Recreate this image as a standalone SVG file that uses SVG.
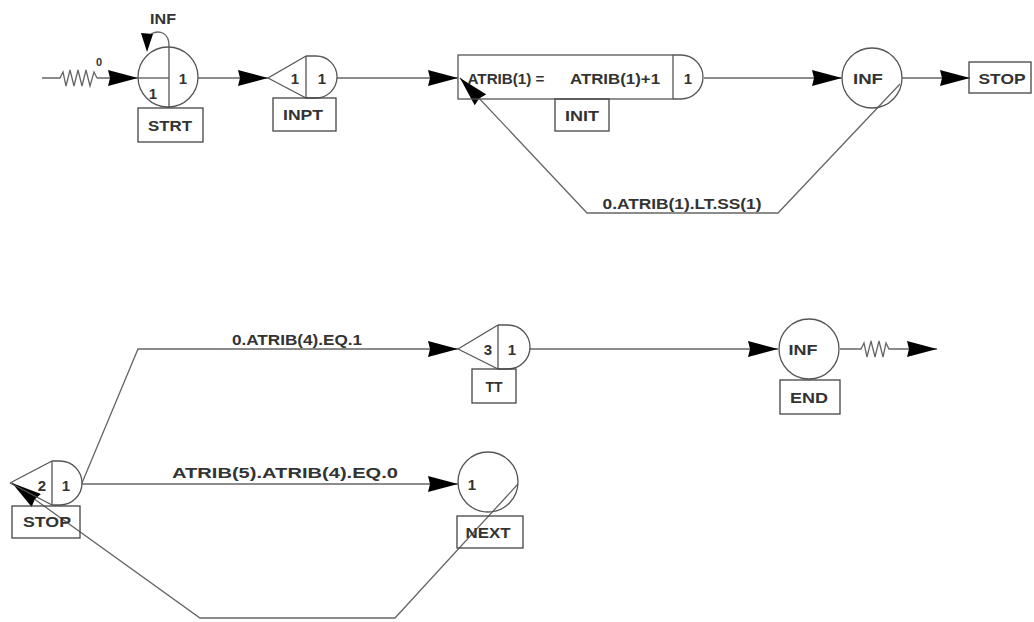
<svg xmlns="http://www.w3.org/2000/svg" width="1034" height="622" viewBox="0 0 1034 622">
  <style>
    .shape { fill: none; stroke: #555; stroke-width: 1.3; }
    .box { fill: none; stroke: #444; stroke-width: 1.3; }
    .wire { fill: none; stroke: #666; stroke-width: 1.3; }
    .lbl { font-family: "Liberation Sans", Arial, sans-serif; font-size: 15px; font-weight: bold; fill: #333; text-anchor: middle; }
    .small { font-family: "Liberation Sans", Arial, sans-serif; font-size: 11px; font-weight: bold; fill: #333; text-anchor: middle; }
  </style>
  <defs>
    <marker id="arrow" viewBox="0 0 30 16" refX="30" refY="8" markerWidth="30" markerHeight="16" markerUnits="userSpaceOnUse" orient="auto">
      <path d="M0,0 L30,8 L0,16 L2,8 Z" fill="#000"/>
    </marker>
  </defs>

  <!-- connectors -->
  <g id="connectors">
    <!-- entity source -->
    <path class="wire" d="M42,78 H60 L63,72 L66,86 L70,70 L74,86 L78,70 L82,86 L86,70 L90,86 L94,72 L97,78"/>
    <text class="small" x="99" y="66">0</text>
    <path class="wire" d="M97,78 H138" marker-end="url(#arrow)"/>
    <path class="wire" d="M198,78 H268" marker-end="url(#arrow)"/>
    <path class="wire" d="M337,78 H458" marker-end="url(#arrow)"/>
    <path class="wire" d="M704,78 H842" marker-end="url(#arrow)"/>
    <path class="wire" d="M902,78 H970" marker-end="url(#arrow)"/>
    <!-- loop back to the assign node -->
    <path class="wire" d="M900,84 L778,213 H587 L460,78" marker-end="url(#arrow)"/>
    <text class="lbl" x="682" y="209" textLength="159" lengthAdjust="spacingAndGlyphs">0.ATRIB(1).LT.SS(1)</text>

    <!-- lower branches -->
    <path class="wire" d="M82,483 L138,349 H458" marker-end="url(#arrow)"/>
    <text class="lbl" x="297" y="345" textLength="130" lengthAdjust="spacingAndGlyphs">0.ATRIB(4).EQ.1</text>
    <path class="wire" d="M530,349 H778" marker-end="url(#arrow)"/>
    <path class="wire" d="M840,349 H861 L864,343 L867,357 L871,341 L875,357 L879,341 L883,357 L886,343 L889,349 H937" marker-end="url(#arrow)"/>
    <path class="wire" d="M82,484 H458" marker-end="url(#arrow)"/>
    <text class="lbl" x="285" y="478" textLength="226" lengthAdjust="spacingAndGlyphs">ATRIB(5).ATRIB(4).EQ.0</text>
    <path class="wire" d="M518,484 L395,618 H200 L12,483" marker-end="url(#arrow)"/>
  </g>

  <!-- CREATE node -->
  <g id="strt">
    <circle class="shape" cx="168" cy="77" r="30"/>
    <line class="shape" x1="169" y1="45" x2="169" y2="108"/>
    <line class="shape" x1="138" y1="78" x2="169" y2="78"/>
    <text class="lbl" x="183" y="84">1</text>
    <text class="lbl" x="153" y="99">1</text>
    <path class="wire" d="M169,45 C169,34 160,29 151,34"/>
    <polygon points="141,33 153,34 147,52" fill="#000"/>
    <text class="lbl" x="163" y="24" textLength="26" lengthAdjust="spacingAndGlyphs">INF</text>
    <rect class="box" x="138" y="108" width="65" height="34"/>
    <text class="lbl" x="170" y="131" textLength="44" lengthAdjust="spacingAndGlyphs">STRT</text>
  </g>

  <!-- QUEUE node INPT -->
  <g id="inpt">
    <path class="shape" d="M268,78 L306,56 M268,78 L306,98"/>
    <path class="shape" d="M306,56 V98 M306,56 H316 A21,21 0 0 1 316,98 H306"/>
    <text class="lbl" x="295" y="84">1</text>
    <text class="lbl" x="322" y="84">1</text>
    <rect class="box" x="273" y="98" width="63" height="33"/>
    <text class="lbl" x="303" y="120" textLength="40" lengthAdjust="spacingAndGlyphs">INPT</text>
  </g>

  <!-- ASSIGN node INIT -->
  <g id="init">
    <rect class="shape" x="458" y="55" width="215" height="44"/>
    <path class="shape" d="M673,55 H681 A22,22 0 0 1 681,99 H673"/>
    <text class="lbl" x="506" y="84" textLength="77" lengthAdjust="spacingAndGlyphs">ATRIB(1) =</text>
    <text class="lbl" x="615" y="84" textLength="90" lengthAdjust="spacingAndGlyphs">ATRIB(1)+1</text>
    <text class="lbl" x="688" y="84">1</text>
    <rect class="box" x="555" y="99" width="54" height="32"/>
    <text class="lbl" x="582" y="121" textLength="34" lengthAdjust="spacingAndGlyphs">INIT</text>
  </g>

  <!-- GOON node -->
  <g id="inf-top">
    <circle class="shape" cx="872" cy="78" r="30"/>
    <text class="lbl" x="868" y="84" textLength="30" lengthAdjust="spacingAndGlyphs">INF</text>
  </g>

  <!-- label node STOP (upper) -->
  <g id="stop-top">
    <rect class="box" x="969" y="62" width="62" height="31"/>
    <text class="lbl" x="1002" y="84" textLength="47" lengthAdjust="spacingAndGlyphs">STOP</text>
  </g>

  <!-- QUEUE node TT -->
  <g id="tt">
    <path class="shape" d="M458,349 L498,325 M458,349 L498,369"/>
    <path class="shape" d="M498,325 V369 M498,325 H508 A22,22 0 0 1 508,369 H498"/>
    <text class="lbl" x="488" y="355">3</text>
    <text class="lbl" x="512" y="355">1</text>
    <rect class="box" x="472" y="369" width="44" height="34"/>
    <text class="lbl" x="494" y="392" textLength="17" lengthAdjust="spacingAndGlyphs">TT</text>
  </g>

  <!-- TERMINATE node END -->
  <g id="end">
    <circle class="shape" cx="809" cy="349" r="30"/>
    <text class="lbl" x="803" y="355" textLength="29" lengthAdjust="spacingAndGlyphs">INF</text>
    <rect class="box" x="780" y="380" width="60" height="34"/>
    <text class="lbl" x="809" y="403" textLength="38" lengthAdjust="spacingAndGlyphs">END</text>
  </g>

  <!-- QUEUE node STOP (lower) -->
  <g id="stop-queue">
    <path class="shape" d="M10,483 L52,461 M10,483 L52,505"/>
    <path class="shape" d="M52,461 V505 M52,461 H60 A22,22 0 0 1 60,505 H52"/>
    <text class="lbl" x="42" y="491">2</text>
    <text class="lbl" x="66" y="491">1</text>
    <rect class="box" x="12" y="506" width="68" height="32"/>
    <text class="lbl" x="47" y="527" textLength="48" lengthAdjust="spacingAndGlyphs">STOP</text>
  </g>

  <!-- TERMINATE node NEXT -->
  <g id="next">
    <circle class="shape" cx="488" cy="482" r="30"/>
    <text class="lbl" x="472" y="490">1</text>
    <rect class="box" x="457" y="516" width="66" height="32"/>
    <text class="lbl" x="488" y="538" textLength="45" lengthAdjust="spacingAndGlyphs">NEXT</text>
  </g>
</svg>
